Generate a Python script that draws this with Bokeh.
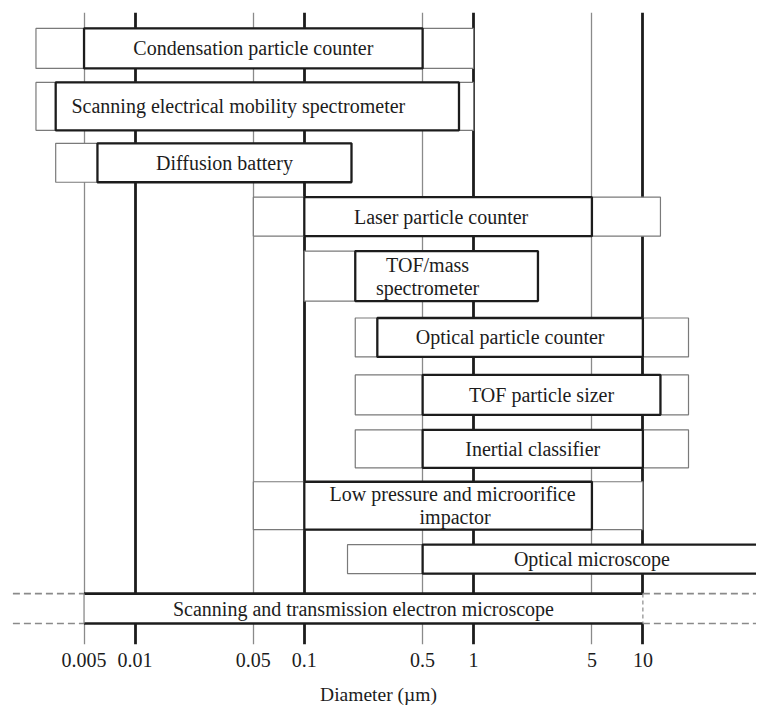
import numpy as np
from bokeh.plotting import figure
from bokeh.models import Range1d, FixedTicker, Grid, NumeralTickFormatter, ColumnDataSource
from bokeh.core.properties import value
from bokeh.embed import file_html
from bokeh.resources import INLINE

# ---------------- data (diameters in micrometres) ----------------
instruments = [
    "Condensation particle counter",
    "Scanning electrical mobility spectrometer",
    "Diffusion battery",
    "Laser particle counter",
    "TOF/mass\nspectrometer",
    "Optical particle counter",
    "TOF particle sizer",
    "Inertial classifier",
    "Low  pressure and microorifice\nimpactor",
    "Optical microscope",
    "Scanning and transmission electron microscope",
]
# extended (thin box) range
outer_lo = [0.0026, 0.0026, 0.0034, 0.05, 0.1, 0.2, 0.2, 0.2, 0.05, 0.18, 0.0019]
outer_hi = [1.0, 1.0, 0.19, 12.7, 2.4, 18.6, 18.6, 18.6, 10.0, 50.0, 100.0]
# typical (thick box) range
inner_lo = [0.005, 0.0034, 0.006, 0.1, 0.2, 0.27, 0.5, 0.5, 0.1, 0.5, 0.005]
inner_hi = [0.5, 0.82, 0.19, 5.0, 2.4, 10.0, 12.7, 10.0, 5.0, 50.0, 10.0]

decade_ticks = [0.01, 0.1, 1, 10]
half_ticks = [0.005, 0.05, 0.5, 5, 50]
all_ticks = [0.005, 0.01, 0.05, 0.1, 0.5, 1, 5, 10, 50]

# ---------------- layout (row bands, in frame units from top) ----------------
row_top = [28, 82, 143, 197, 251, 318, 375, 430, 482, 545, 594]
row_bot = [68, 130, 182, 236, 301, 357, 415, 468, 530, 574, 624]
label_dx = [0, -19, 0, -7, -19, 0, 0, 0, 7, 0, 0]

FONT = "Liberation Serif"
DARK = "#1c1c1c"
THIN = "#7a7a7a"

p = figure(width=756, height=707, x_axis_type="log",
           x_range=Range1d(0.001605, 46.9), y_range=Range1d(645, 12),
           y_axis_location=None, output_backend="svg", toolbar_location=None,
           min_border_left=0, min_border_right=0, min_border_top=12,
           min_border_bottom=62, outline_line_color=None,
           background_fill_color="white", border_fill_color="white")
p.xgrid.visible = False
p.ygrid.visible = False

p.add_layout(Grid(dimension=0, ticker=FixedTicker(ticks=half_ticks),
                  grid_line_color="#8a8a8a", grid_line_width=1.3))
p.add_layout(Grid(dimension=0, ticker=FixedTicker(ticks=decade_ticks),
                  grid_line_color=DARK, grid_line_width=2.8))

n = len(instruments)
box_idx = list(range(n - 1))
sem = n - 1

src_out = ColumnDataSource(dict(
    left=[outer_lo[i] for i in box_idx], right=[outer_hi[i] for i in box_idx],
    top=[row_top[i] for i in box_idx], bottom=[row_bot[i] for i in box_idx]))
src_in = ColumnDataSource(dict(
    left=[inner_lo[i] for i in box_idx], right=[inner_hi[i] for i in box_idx],
    top=[row_top[i] for i in box_idx], bottom=[row_bot[i] for i in box_idx]))
p.quad(left="left", right="right", top="top", bottom="bottom", source=src_out,
       fill_color="white", line_color=THIN, line_width=1.2)
p.quad(left="left", right="right", top="top", bottom="bottom", source=src_in,
       fill_color="white", line_color=DARK, line_width=2.3)

t, b = row_top[sem], row_bot[sem]
p.quad(left=[outer_lo[sem]], right=[outer_hi[sem]], top=[t], bottom=[b],
       fill_color="white", line_color=None)
p.segment(x0=[outer_lo[sem], outer_lo[sem], inner_hi[sem], inner_hi[sem]],
          x1=[inner_lo[sem], inner_lo[sem], outer_hi[sem], outer_hi[sem]],
          y0=[t, b, t, b], y1=[t, b, t, b],
          line_color="#8a8a8a", line_width=1.6, line_dash="7 4")
p.segment(x0=[inner_lo[sem], inner_lo[sem]], x1=[inner_hi[sem], inner_hi[sem]],
          y0=[t, b], y1=[t, b], line_color=DARK, line_width=2.6)
p.segment(x0=[inner_lo[sem]], x1=[inner_lo[sem]], y0=[t], y1=[b],
          line_color="#8a8a8a", line_width=1.3)
p.segment(x0=[inner_hi[sem]], x1=[inner_hi[sem]], y0=[t], y1=[b],
          line_color="#8a8a8a", line_width=1.2, line_dash="4 3")

lab = ColumnDataSource(dict(
    x=list(np.sqrt(np.array(inner_lo) * np.array(inner_hi))),
    y=[(a + c) / 2 for a, c in zip(row_top, row_bot)],
    text=instruments, dx=label_dx))
p.text(x="x", y="y", text="text", x_offset="dx", source=lab,
       text_font=value(FONT), text_font_size=value("20px"),
       text_align="center", text_baseline="middle", text_color=DARK,
       text_line_height=1.05)

ax = p.xaxis[0]
ax.ticker = FixedTicker(ticks=all_ticks)
ax.formatter = NumeralTickFormatter(format="0.[000]")
ax.axis_line_color = None
ax.major_tick_line_color = None
ax.minor_tick_line_color = None
ax.major_tick_out = 0
ax.major_tick_in = 0
ax.major_label_standoff = 8
ax.major_label_text_font = FONT
ax.major_label_text_font_size = "20px"
ax.major_label_text_color = DARK
ax.axis_label = "Diameter (µm)"
ax.axis_label_text_font = FONT
ax.axis_label_text_font_size = "19.5px"
ax.axis_label_text_font_style = "normal"
ax.axis_label_text_color = DARK
ax.axis_label_standoff = 14

open("out.html", "w").write(file_html(p, INLINE))
